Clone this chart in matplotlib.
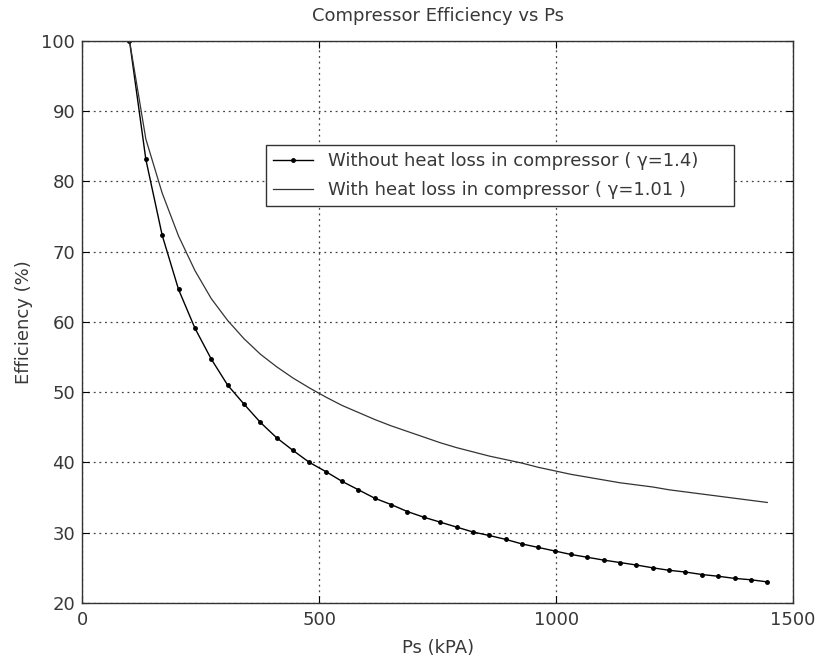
import numpy as np
import matplotlib.pyplot as plt

plt.rcParams['font.family'] = ['DejaVu Sans']

# Ps values (kPa), 40 points from 100 to ~1445
ps = 100 + 34.5 * np.arange(40)

# Efficiency without heat loss (gamma = 1.4)
eff_adiabatic = [100, 83.1, 72.3, 64.6, 59.1, 54.7, 51.0, 48.3, 45.7, 43.5,
                 41.7, 40.0, 38.7, 37.3, 36.1, 34.9, 34.0, 33.0, 32.2, 31.5,
                 30.8, 30.1, 29.6, 29.05, 28.4, 27.9, 27.4, 26.9, 26.5, 26.1,
                 25.75, 25.4, 25.0, 24.65, 24.4, 24.05, 23.8, 23.5, 23.3, 23.0]

# Efficiency with heat loss (gamma = 1.01)
eff_heatloss = [100, 86.0, 78.3, 72.2, 67.3, 63.3, 60.2, 57.6, 55.4, 53.6,
                52.0, 50.6, 49.3, 48.1, 47.1, 46.1, 45.2, 44.4, 43.6, 42.8,
                42.1, 41.5, 40.9, 40.4, 39.9, 39.3, 38.8, 38.3, 37.9, 37.5,
                37.1, 36.8, 36.5, 36.1, 35.8, 35.5, 35.2, 34.9, 34.6, 34.3]

txt = '#383838'
fs = 13

fig = plt.figure(figsize=(8.21, 6.60), dpi=100)
ax = fig.add_axes([0.1, 0.0864, 0.866, 0.852])

ax.plot(ps, eff_adiabatic, color='black', lw=1.0, marker='.', markersize=5,
        label='Without heat loss in compressor ( γ=1.4)')
ax.plot(ps, eff_heatloss, color='#333333', lw=0.9,
        label='With heat loss in compressor ( γ=1.01 )')

ax.set_xlim(0, 1500)
ax.set_ylim(20, 100)
ax.set_xticks([0, 500, 1000, 1500])
ax.set_yticks(np.arange(20, 101, 10))

ax.grid(True, linestyle=(0, (1.5, 3)), color='#444444', lw=0.9)
ax.tick_params(direction='in', top=True, right=True, length=5,
               labelsize=fs, colors='black', labelcolor=txt)
ax.tick_params(axis='y', pad=5)
ax.tick_params(axis='x', pad=6)
for s in ax.spines.values():
    s.set_color('#333333')
    s.set_linewidth(1.0)

ax.set_title('Compressor Efficiency vs Ps', fontsize=fs, color=txt, pad=14)
ax.set_xlabel('Ps (kPA)', fontsize=fs, color=txt, labelpad=7)
ax.set_ylabel('Efficiency (%)', fontsize=fs, color=txt)
ax.yaxis.set_label_coords(-0.069, 0.5)

# legend box stretched to a fixed width
leg = ax.legend(loc='upper left', bbox_to_anchor=(0.259, 0.0, 0.658, 0.815),
                mode='expand', borderaxespad=0, fancybox=False, framealpha=1,
                edgecolor='#333333', fontsize=fs, numpoints=1,
                handlelength=2.2, handletextpad=0.8,
                borderpad=0.4, labelspacing=0.62)
leg.get_frame().set_linewidth(1.0)
for t in leg.get_texts():
    t.set_color(txt)

fig.savefig('out.png', dpi=100)
